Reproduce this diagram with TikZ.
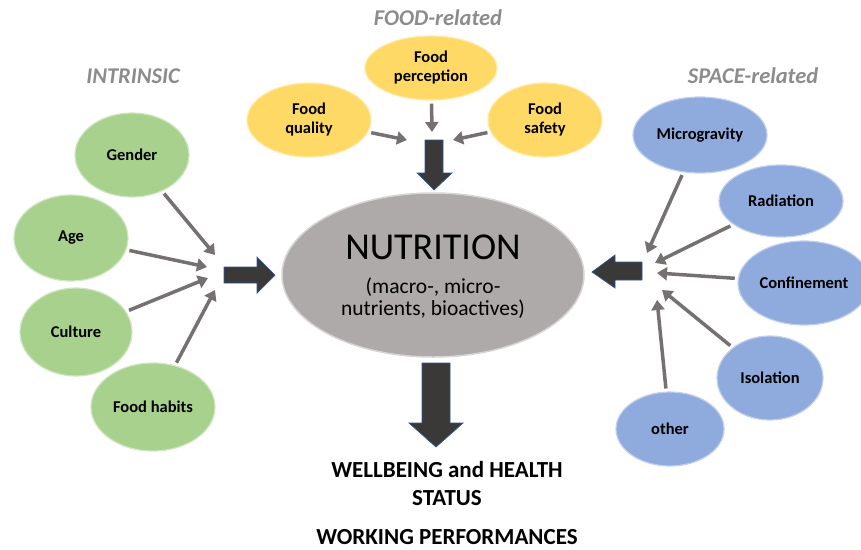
\documentclass[tikz,border=0pt]{standalone}
\usepackage{fontspec}
\setmainfont{Carlito}
\usetikzlibrary{arrows.meta,shapes.geometric}
\definecolor{greenfill}{HTML}{A9D18E}
\definecolor{yellowfill}{HTML}{FFD966}
\definecolor{bluefill}{HTML}{8FAADC}
\definecolor{corefill}{HTML}{AEAAAA}
\definecolor{feedgray}{HTML}{767171}
\definecolor{blockdark}{HTML}{3B3838}
\definecolor{blockedge}{HTML}{2F5597}
\definecolor{titlegray}{HTML}{8C8C8C}
\newcommand{\coretitle}{\fontsize{38}{42}\selectfont}
\newcommand{\coresub}{\fontsize{21.5}{22}\selectfont}
\begin{document}
\begin{tikzpicture}[x=1pt,y=-1pt,
  bubble/.style={ellipse, inner sep=0pt, line width=1.2pt, align=center,
    font=\fontsize{16.5}{19}\selectfont\bfseries},
  greenbubble/.style={bubble, fill=greenfill, draw=greenfill!55!white},
  yellowbubble/.style={bubble, fill=yellowfill, draw=yellowfill!55!white},
  bluebubble/.style={bubble, fill=bluefill, draw=bluefill!55!white},
  feed/.style={draw=feedgray, line width=3.5pt,
    -{Triangle[length=10pt,width=13pt]}, shorten <=3pt},
  block/.style={fill=blockdark, draw=blockedge, line width=0.7pt, line join=miter},
  grouptitle/.style={font=\fontsize{22.5}{26}\selectfont\bfseries\itshape, text=titlegray},
  outcome/.style={font=\fontsize{23}{27}\selectfont\bfseries, anchor=base,
    inner sep=0pt, text depth=0pt}
]
\useasboundingbox (0,0) rectangle (861,549);

% group titles
\node[grouptitle] (tintr) at (133,76) {INTRINSIC};
\node[grouptitle] (tfood) at (438,18) {FOOD-related};
\node[grouptitle] (tspace) at (753,76) {SPACE-related};

% central node
\node[ellipse, inner sep=0pt, minimum width=302pt, minimum height=164pt,
  fill=corefill, draw=corefill!50!white, line width=1.5pt]
  (nut) at (433,275) {};
\node[font=\coretitle] (nuttitle) at (433,247) {NUTRITION};
\node[font=\coresub, align=center] (nutsub) at (433,298) {(macro-, micro-\\nutrients, bioactives)};

% intrinsic factors
\node[greenbubble, minimum width=114pt, minimum height=84pt] (gender) at (132,155) {Gender};
\node[greenbubble, minimum width=114pt, minimum height=86pt] (age) at (71,238) {Age};
\node[greenbubble, minimum width=112pt, minimum height=88pt] (culture) at (76,332) {Culture};
\node[greenbubble, minimum width=124pt, minimum height=88pt] (habits) at (153,407) {Food habits};

% food-related factors
\node[yellowbubble, minimum width=124pt, minimum height=74pt] (quality) at (309,120) {Food\\quality};
\node[yellowbubble, minimum width=132pt, minimum height=64pt] (percep) at (431,68) {Food\\perception};
\node[yellowbubble, minimum width=114pt, minimum height=74pt] (safety) at (545,120) {Food\\safety};

% space-related factors
\node[bluebubble, minimum width=134pt, minimum height=76pt] (micro) at (700,135) {Microgravity};
\node[bluebubble, minimum width=124pt, minimum height=72pt] (rad) at (781,201) {Radiation};
\node[bluebubble, minimum width=132pt, minimum height=84pt] (conf) at (804,283) {Confinement};
\node[bluebubble, minimum width=106pt, minimum height=84pt] (iso) at (770,378) {Isolation};
\node[bluebubble, minimum width=108pt, minimum height=74pt] (other) at (670,429) {other};

% arrow tips of the small connectors
\coordinate (g1) at (215,255);
\coordinate (g2) at (207,267);
\coordinate (g3) at (208,278);
\coordinate (g4) at (215,290);
\coordinate (f1) at (407,140);
\coordinate (f2) at (432,132);
\coordinate (f3) at (453,140);
\coordinate (s1) at (647,253);
\coordinate (s2) at (655,263);
\coordinate (s3) at (657,273);
\coordinate (s4) at (662,290);
\coordinate (s5) at (657,300);

\draw[feed] (gender) -- (g1);
\draw[feed] (age) -- (g2);
\draw[feed] (culture) -- (g3);
\draw[feed] (habits) -- (g4);
\draw[feed] (quality) -- (f1);
\draw[feed] (percep) -- (f2);
\draw[feed] (safety) -- (f3);
\draw[feed] (micro) -- (s1);
\draw[feed] (rad) -- (s2);
\draw[feed] (conf) -- (s3);
\draw[feed] (iso) -- (s4);
\draw[feed] (other) -- (s5);

% block arrows into and out of the central node
\draw[block] (224,267) -- (257,267) -- (257,257) -- (275,275) -- (257,293) -- (257,283) -- (224,283) -- cycle;
\draw[block] (425,140) -- (443,140) -- (443,173) -- (452,173) -- (434,190) -- (417,173) -- (425,173) -- cycle;
\draw[block] (642,262) -- (615,262) -- (615,255) -- (592,272) -- (615,288) -- (615,280) -- (642,280) -- cycle;
\draw[block] (422,363) -- (450,363) -- (450,423) -- (463,423) -- (436,447) -- (409,423) -- (422,423) -- cycle;

% outcomes
\node[outcome] (well) at (447,477) {WELLBEING and HEALTH};
\node[outcome] (status) at (447,505) {STATUS};
\node[outcome] (work) at (447,544) {WORKING PERFORMANCES};
\end{tikzpicture}
\end{document}
